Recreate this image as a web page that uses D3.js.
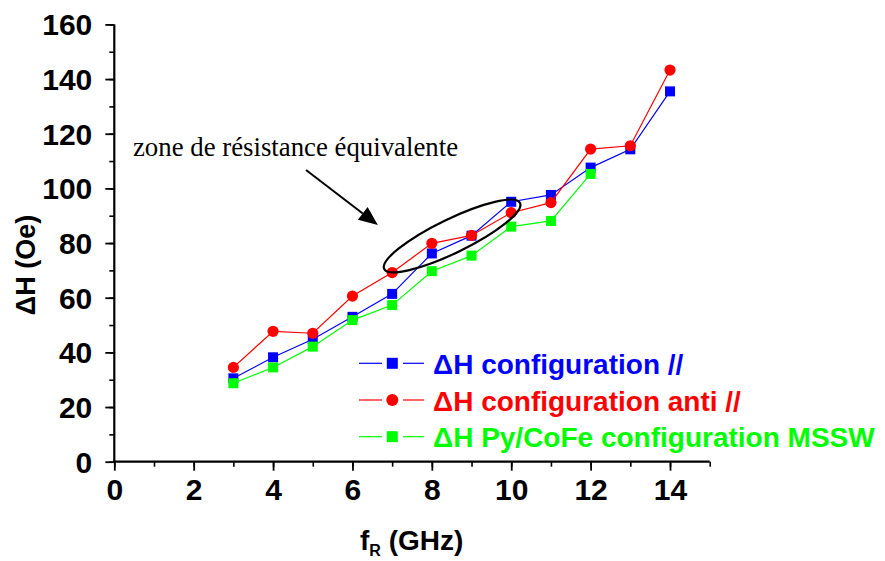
<!DOCTYPE html>
<html><head><meta charset="utf-8">
<script src="https://cdn.jsdelivr.net/npm/d3@7/dist/d3.min.js"></script>
<style>body{margin:0;background:#fff}</style>
</head><body>
<svg id="c" width="885" height="561"></svg>
<script>
// ---- data ----
const freq = [3,4,5,6,7,8,9,10,11,12,13,14];
const dhParallel = [30.5,38.2,44.8,53.0,61.4,76.2,82.7,95.1,97.6,107.6,114.3,135.5];
const dhAnti = [34.5,47.7,47.0,60.6,69.2,79.9,82.8,91.1,94.8,114.4,115.6,143.3];
const freqMSSW = [3,4,5,6,7,8,9,10,11,12];
const dhMSSW = [28.7,34.5,42.1,51.8,57.3,69.7,75.4,86.0,88.1,105.3];
const xTicks = [0,2,4,6,8,10,12,14];
const yTicks = [0,20,40,60,80,100,120,140,160];
const seriesNames = ["ΔH configuration //","ΔH configuration anti //","ΔH Py/CoFe configuration MSSW"];
const annotationText = "zone de résistance équivalente";

const svg = d3.select("#c");
const x = d3.scaleLinear().domain([0,15]).range([114.3,709.7]);
const y = d3.scaleLinear().domain([0,160]).range([461.7,24.4]);

const series = [
  {name: seriesNames[0], xs: freq, ys: dhParallel, color: "#0000ff", shape: "square"},
  {name: seriesNames[1], xs: freq, ys: dhAnti, color: "#ff0000", shape: "circle"},
  {name: seriesNames[2], xs: freqMSSW, ys: dhMSSW, color: "#00ff00", shape: "square"}
];

// ---- axes ----
const minorY = d3.range(0,161,10), minorX = d3.range(0,16,1);
svg.append("g").attr("transform",`translate(${x(0)},0)`)
  .call(d3.axisLeft(y).tickValues(minorY).tickSize(5).tickFormat(""))
  .call(g=>{g.select(".domain").remove(); g.selectAll("line").attr("stroke","#000").attr("stroke-width",1.6);});
svg.append("g").attr("transform",`translate(0,${y(0)})`)
  .call(d3.axisBottom(x).tickValues(minorX).tickSize(5).tickFormat(""))
  .call(g=>{g.select(".domain").remove(); g.selectAll("line").attr("stroke","#000").attr("stroke-width",1.6);});

const yAx = svg.append("g").attr("transform",`translate(${x(0)},0)`)
  .call(d3.axisLeft(y).tickValues(yTicks).tickSize(9).tickPadding(13));
yAx.select(".domain").remove();
yAx.selectAll("line").attr("stroke","#000").attr("stroke-width",1.8);
yAx.selectAll("text").attr("fill","#000").attr("font-family","Liberation Sans, Arial, sans-serif")
  .attr("font-weight","bold").attr("font-size",30).attr("dy","0.35em");

const xAx = svg.append("g").attr("transform",`translate(0,${y(0)})`)
  .call(d3.axisBottom(x).tickValues(xTicks).tickSize(9).tickPadding(6));
xAx.select(".domain").remove();
xAx.selectAll("line").attr("stroke","#000").attr("stroke-width",1.8);
xAx.selectAll("text").attr("fill","#000").attr("font-family","Liberation Sans, Arial, sans-serif")
  .attr("font-weight","bold").attr("font-size",30).attr("dy","0").attr("y",38.5);

svg.append("line").attr("x1",x(0)).attr("x2",x(0)).attr("y1",y(0)+1).attr("y2",y(160))
  .attr("stroke","#000").attr("stroke-width",2.2);
svg.append("line").attr("x1",x(0)-1).attr("x2",x(15)).attr("y1",y(0)).attr("y2",y(0))
  .attr("stroke","#000").attr("stroke-width",2.2);

// axis titles
svg.append("text").attr("transform","translate(35,265) rotate(-90)")
  .attr("text-anchor","middle").attr("font-family","Liberation Sans, Arial, sans-serif")
  .attr("font-weight","bold").attr("font-size",27).attr("fill","#000").text("ΔH (Oe)");
const xt = svg.append("text").attr("x",360).attr("y",550)
  .attr("font-family","Liberation Sans, Arial, sans-serif")
  .attr("font-weight","bold").attr("font-size",28).attr("fill","#000");
xt.append("tspan").text("f");
xt.append("tspan").attr("font-size",16).attr("dy",6).text("R");
xt.append("tspan").attr("dy",-6).text(" (GHz)");

// ---- series ----
function marker(g, shape, cx, cy, color){
  if(shape==="circle"){
    g.append("circle").attr("cx",cx).attr("cy",cy).attr("r",5.6).attr("fill",color);
  } else {
    g.append("rect").attr("x",cx-5).attr("y",cy-5).attr("width",10).attr("height",10).attr("fill",color);
  }
}
const line = d3.line().x(d=>x(d[0])).y(d=>y(d[1]));
series.forEach(s=>{
  const pts = s.xs.map((v,i)=>[v,s.ys[i]]);
  const g = svg.append("g");
  g.append("path").datum(pts).attr("d",line).attr("fill","none").attr("stroke",s.color).attr("stroke-width",1.2);
  pts.forEach(p=>marker(g,s.shape,x(p[0]),y(p[1]),s.color));
});

// ---- annotation ----
svg.append("text").attr("x",x(0.47)).attr("y",y(111.8))
  .attr("font-family","Liberation Serif, Times New Roman, serif").attr("font-size",26.8)
  .attr("fill","#000").text(annotationText);
const ax1 = x(4.83), ay1 = y(106.7), ax2 = x(6.64), ay2 = y(86.6);
const ang = Math.atan2(ay2-ay1, ax2-ax1), hl = 19, hw = 8;
const bx = ax2 - hl*Math.cos(ang), by = ay2 - hl*Math.sin(ang);
svg.append("line").attr("x1",ax1).attr("y1",ay1).attr("x2",bx).attr("y2",by)
  .attr("stroke","#000").attr("stroke-width",2);
svg.append("path").attr("d",`M${ax2},${ay2} L${bx+hw*Math.sin(ang)},${by-hw*Math.cos(ang)} L${bx-hw*Math.sin(ang)},${by+hw*Math.cos(ang)} Z`)
  .attr("fill","#000");
svg.append("ellipse").attr("cx",0).attr("cy",0).attr("rx",75.5).attr("ry",17)
  .attr("transform",`translate(${x(8.51)},${y(82.6)}) rotate(-25.9)`)
  .attr("fill","none").attr("stroke","#000").attr("stroke-width",2.2);

// ---- legend ----
const lg = svg.append("g");
series.forEach((s,i)=>{
  const cy = 363.3 + i*36.7;
  lg.append("line").attr("x1",359).attr("x2",382).attr("y1",cy).attr("y2",cy).attr("stroke",s.color).attr("stroke-width",1.2);
  lg.append("line").attr("x1",403).attr("x2",424).attr("y1",cy).attr("y2",cy).attr("stroke",s.color).attr("stroke-width",1.2);
  if(s.shape==="circle") lg.append("circle").attr("cx",392.3).attr("cy",cy).attr("r",6).attr("fill",s.color);
  else lg.append("rect").attr("x",392.3-5.5).attr("y",cy-5.5).attr("width",11).attr("height",11).attr("fill",s.color);
  lg.append("text").attr("x",433).attr("y",cy+10.5)
    .attr("font-family","Liberation Sans, Arial, sans-serif").attr("font-weight","bold")
    .attr("font-size",28).attr("fill",s.color).text(s.name);
});
</script>
</body></html>
